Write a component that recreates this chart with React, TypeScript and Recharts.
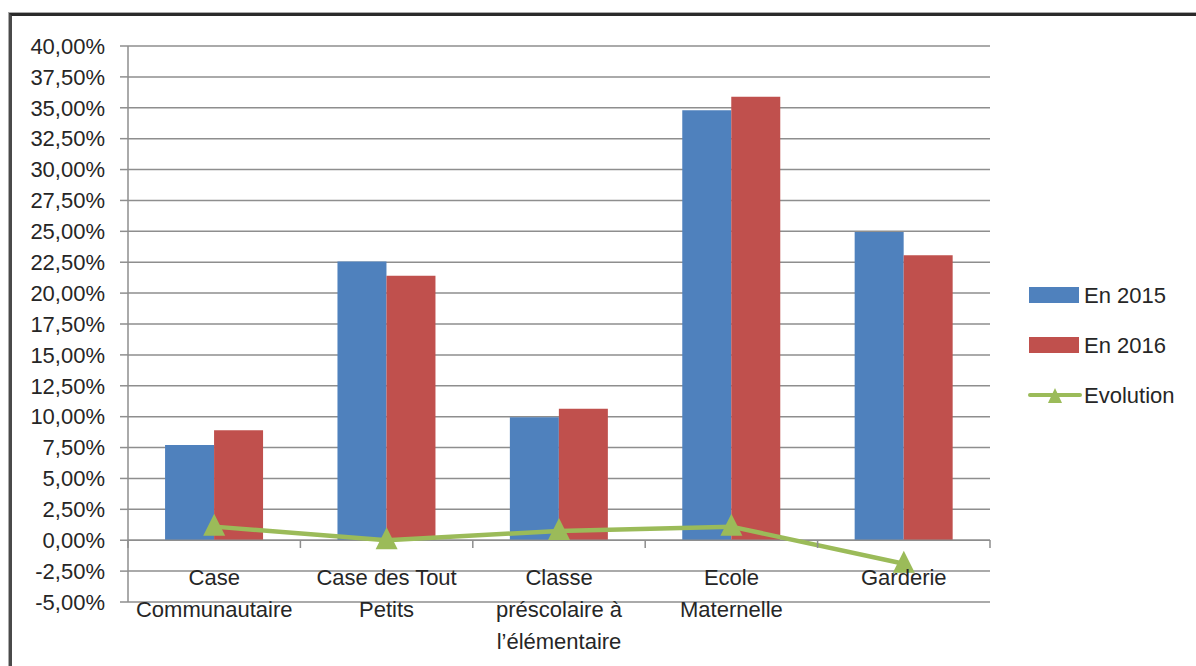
import React from 'react';
import {
  ComposedChart,
  Bar,
  Line,
  XAxis,
  YAxis,
  CartesianGrid,
  ReferenceLine,
  Legend,
} from 'recharts';

const categories = [
  'Case\nCommunautaire',
  'Case des Tout\nPetits',
  'Classe\npréscolaire à\nl\u2019élémentaire',
  'Ecole\nMaternelle',
  'Garderie',
];
const en2015 = [7.7, 22.55, 9.95, 34.8, 24.95];
const en2016 = [8.9, 21.4, 10.65, 35.9, 23.07];
const evolution = [1.1, 0.0, 0.75, 1.1, -1.9];
const yTicks = [-5, -2.5, 0, 2.5, 5, 7.5, 10, 12.5, 15, 17.5, 20, 22.5, 25, 27.5, 30, 32.5, 35, 37.5, 40];

const data = categories.map((name, i) => ({
  name,
  en2015: en2015[i],
  en2016: en2016[i],
  evolution: evolution[i],
}));

const BLUE = '#4F81BD';
const RED = '#C0504D';
const GREEN = '#9BBB59';
const GRID = '#8e8e8e';
const TEXT = '#262626';
const FONT = '"Liberation Sans", Arial, sans-serif';

const W = 1196;
const H = 666;
const margin = { top: 46, right: 206, bottom: 0, left: 28 };
const Y_AXIS_W = 100;
const X_AXIS_H = 64;
const plotW = W - margin.left - Y_AXIS_W - margin.right;
const band = plotW / categories.length;

const fmt = (v: number) => `${v.toFixed(2).replace('.', ',')}%`;

const Triangle = (props: any) => {
  const { cx, cy } = props;
  if (cx == null || cy == null) return null;
  return (
    <polygon
      points={`${cx},${cy - 13} ${cx - 11},${cy + 9} ${cx + 11},${cy + 9}`}
      fill={GREEN}
    />
  );
};

// category labels sit just under the zero line, like Excel does
const CategoryTick = (props: any) => {
  const { x, y, payload, index } = props;
  const lines = String(payload.value).split('\n');
  const zeroTop = y - 62;
  return (
    <g>
      <line x1={x - band / 2} x2={x - band / 2} y1={zeroTop} y2={zeroTop + 8} stroke={GRID} strokeWidth={1.5} />
      {index === categories.length - 1 && (
        <line x1={x + band / 2} x2={x + band / 2} y1={zeroTop} y2={zeroTop + 8} stroke={GRID} strokeWidth={1.5} />
      )}
      {lines.map((l, i) => (
        <text
          key={i}
          x={x}
          y={y - 17 + i * 32}
          textAnchor="middle"
          fill={TEXT}
          fontSize={22}
          fontFamily={FONT}
        >
          {l}
        </text>
      ))}
    </g>
  );
};

const LegendContent = () => {
  const items = [
    { label: 'En 2015', color: BLUE, type: 'rect' },
    { label: 'En 2016', color: RED, type: 'rect' },
    { label: 'Evolution', color: GREEN, type: 'line' },
  ];
  return (
    <svg width={170} height={140} style={{ fontFamily: FONT }}>
      {items.map((it, i) => {
        const cy = 15 + i * 50;
        return (
          <g key={it.label}>
            {it.type === 'rect' ? (
              <rect x={1} y={cy - 8} width={50} height={16} fill={it.color} />
            ) : (
              <g>
                <line x1={2} x2={52} y1={cy} y2={cy} stroke={it.color} strokeWidth={4} strokeLinecap="round" />
                <polygon points={`${27},${cy - 7} ${20},${cy + 8} ${34},${cy + 8}`} fill={it.color} />
              </g>
            )}
            <text x={56} y={cy + 8} fontSize={22} fill={TEXT}>
              {it.label}
            </text>
          </g>
        );
      })}
    </svg>
  );
};

export default function App() {
  return (
    <div style={{ position: 'relative', width: W, height: H, overflow: 'hidden', background: '#fff' }}>
      <style>{`body{margin:0}`}</style>
      <div
        style={{
          position: 'absolute',
          left: 9,
          top: 13,
          width: W,
          height: H,
          borderTop: '3px solid #2a2a2a',
          borderLeft: '3px solid #4a4a4a',
          boxShadow: '-1px -1px 0 #aaa',
        }}
      />
      <div style={{ position: 'absolute', left: 0, top: 0 }}>
        <ComposedChart
          width={W}
          height={H}
          data={data}
          margin={margin}
          barCategoryGap="21.5%"
          barGap={0}
        >
          <CartesianGrid vertical={false} stroke={GRID} strokeWidth={1.5} />
          <XAxis
            dataKey="name"
            axisLine={false}
            tickLine={false}
            tickSize={0}
            tickMargin={0}
            height={X_AXIS_H}
            interval={0}
            tick={<CategoryTick />}
          />
          <YAxis
            width={Y_AXIS_W}
            domain={[-5, 40]}
            ticks={yTicks}
            interval={0}
            tickFormatter={fmt}
            axisLine={{ stroke: GRID, strokeWidth: 1.5 }}
            tickLine={{ stroke: GRID, strokeWidth: 1.5 }}
            tickSize={8}
            tickMargin={15}
            tick={{ fill: TEXT, fontSize: 22, fontFamily: FONT }}
          />
          <ReferenceLine y={0} stroke={GRID} strokeWidth={1.5} />
          <Bar dataKey="en2015" name="En 2015" fill={BLUE} isAnimationActive={false} />
          <Bar dataKey="en2016" name="En 2016" fill={RED} isAnimationActive={false} />
          <Line
            dataKey="evolution"
            name="Evolution"
            stroke={GREEN}
            strokeWidth={4.5}
            dot={<Triangle />}
            activeDot={false}
            isAnimationActive={false}
          />
          <Legend
            layout="vertical"
            align="center"
            verticalAlign="middle"
            content={<LegendContent />}
            wrapperStyle={{ position: 'absolute', left: 1028, top: 280, width: 170 }}
          />
        </ComposedChart>
      </div>
    </div>
  );
}
